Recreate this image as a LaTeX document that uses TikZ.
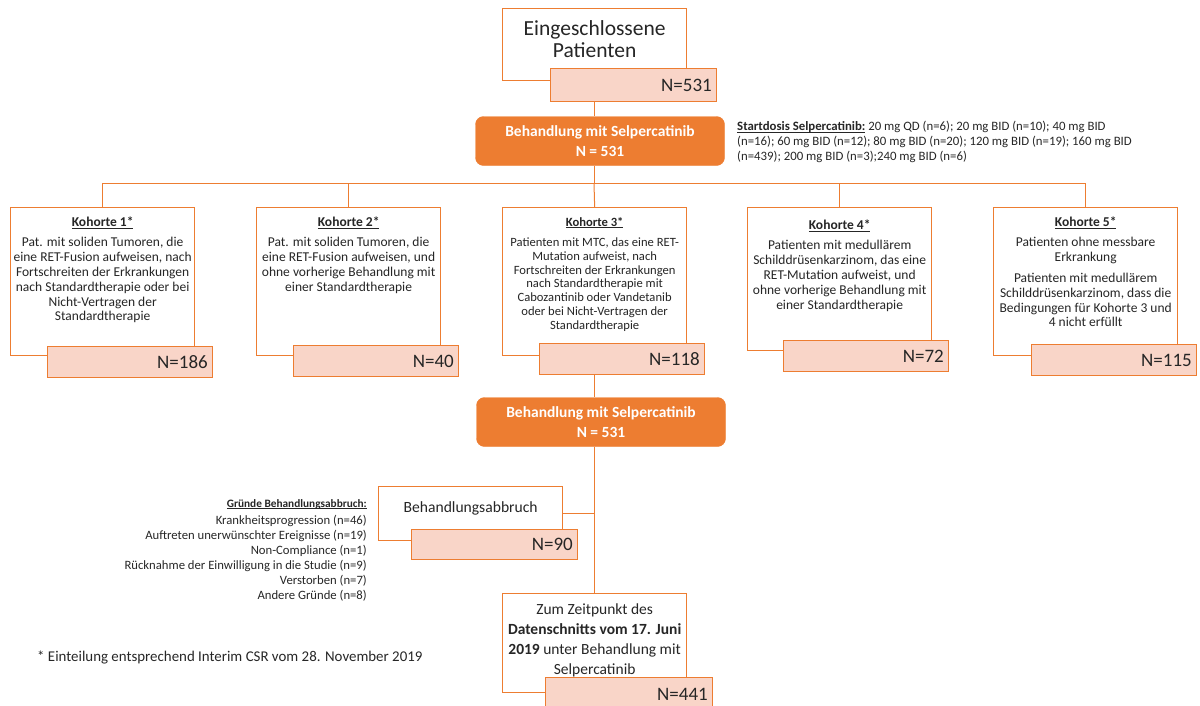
\documentclass[tikz,border=0pt]{standalone}
\usepackage{fontspec}
\setmainfont{Carlito}
\usetikzlibrary{positioning, calc}

\definecolor{boxorange}{HTML}{ED7D31}
\definecolor{npink}{HTML}{F9D5C8}
\definecolor{txtgray}{HTML}{262626}
\newcommand{\setfs}[2]{\fontsize{#1}{#2}\selectfont}
\newcommand{\ulbase}[1]{\underline{\smash{#1}}\vphantom{#1}}

\tikzset{
  wbox/.style={draw=boxorange, line width=1.3pt, fill=white, minimum width=184pt, minimum height=148pt, anchor=north west, inner sep=0pt},
  nbox/.style={draw=boxorange, line width=1.1pt, fill=npink, minimum height=31pt, text width=155pt, align=right, inner sep=5pt, anchor=north east, font=\setfs{19}{22}},
  obox/.style={draw=boxorange, fill=boxorange, rounded corners=8pt, minimum width=249pt, minimum height=49pt, text=white, align=center, font=\bfseries\setfs{15.5}{19.5}},
  ktext/.style={align=center, inner sep=0pt, font=\setfs{13.5}{14.8}},
  conn/.style={draw=boxorange, line width=1pt},
  every node/.style={text=txtgray}
}

\begin{document}
\begin{tikzpicture}[x=1pt, y=-1pt, node distance=10pt]
  \useasboundingbox (0,0) rectangle (1200,705);

  % Einschluss
  \node[wbox, minimum height=72pt] (incl) at (502,8) {};
  \node[below=12pt of incl.north, inner sep=0pt, align=center, font=\setfs{21.5}{22}] (inclt) {Eingeschlossene\\Patienten};
  \node[nbox, text width=156pt, minimum height=33pt] (n531) at ($(incl.south east)+(30,-13)$) {N=531};

  % Behandlung
  \node[obox] (beh1) at (600,141) {Behandlung mit Selpercatinib\\N = 531};
  \node[anchor=north west, inner sep=0pt, align=left, font=\setfs{12.8}{15}] (dose) at (737,121) {\textbf{\ulbase{Startdosis Selpercatinib:}} 20 mg QD (n=6); 20 mg BID (n=10); 40 mg BID\\(n=16); 60 mg BID (n=12); 80 mg BID (n=20); 120 mg BID (n=19); 160 mg BID\\(n=439); 200 mg BID (n=3);240 mg BID (n=6)};
  \coordinate (split) at (594,183);

  % Kohorten
  \node[wbox] (k1) at (10,207) {};
  \node[ktext, below=of k1.north] (k1t) {\textbf{\ulbase{Kohorte 1*}}\\[5.2pt]Pat. mit soliden Tumoren, die\\eine RET-Fusion aufweisen, nach\\Fortschreiten der Erkrankungen\\nach Standardtherapie oder bei\\Nicht-Vertragen der\\Standardtherapie};
  \node[nbox] (k1n) at ($(k1.south east)+(18,-10)$) {N=186};

  \node[wbox] (k2) at (256,207) {};
  \node[ktext, below=of k2.north] (k2t) {\textbf{\ulbase{Kohorte 2*}}\\[5.2pt]Pat. mit soliden Tumoren, die\\eine RET-Fusion aufweisen, und\\ohne vorherige Behandlung mit\\einer Standardtherapie};
  \node[nbox] (k2n) at ($(k2.south east)+(18,-11)$) {N=40};

  \node[wbox] (k3) at (502,207) {};
  \node[ktext, below=of k3.north, font=\setfs{12.6}{13.8}] (k3t) {\textbf{\ulbase{Kohorte 3*}}\\[6.5pt]Patienten mit MTC, das eine RET-\\Mutation aufweist, nach\\Fortschreiten der Erkrankungen\\nach Standardtherapie mit\\Cabozantinib oder Vandetanib\\oder bei Nicht-Vertragen der\\Standardtherapie};
  \node[nbox] (k3n) at ($(k3.south east)+(18,-13)$) {N=118};

  \node[wbox, minimum height=143pt] (k4) at (747,207) {};
  \node[ktext, below=13pt of k4.north] (k4t) {\textbf{\ulbase{Kohorte 4*}}\\[5.2pt]Patienten mit medullärem\\Schilddrüsenkarzinom, das eine\\RET-Mutation aufweist, und\\ohne vorherige Behandlung mit\\einer Standardtherapie};
  \node[nbox] (k4n) at ($(k4.south east)+(17,-11)$) {N=72};

  \node[wbox] (k5) at (993,207) {};
  \node[ktext, below=of k5.north] (k5t) {\textbf{\ulbase{Kohorte 5*}}\\[5.2pt]Patienten ohne messbare\\Erkrankung\\[6pt]Patienten mit medullärem\\Schilddrüsenkarzinom, dass die\\Bedingungen für Kohorte 3 und\\4 nicht erfüllt};
  \node[nbox] (k5n) at ($(k5.south east)+(19,-12)$) {N=115};

  % Behandlung nach Kohorten
  \node[obox] (beh2) at (601,422) {Behandlung mit Selpercatinib\\N = 531};

  % Abbruch
  \node[wbox, minimum height=54pt] (abb) at (378,486) {};
  \node[below=15pt of abb.north, inner sep=0pt, font=\setfs{15.6}{18}] (abbt) {Behandlungsabbruch};
  \node[nbox, text width=156pt, minimum height=30pt] (n90) at ($(abb.south east)+(15,-12)$) {N=90};
  \node[anchor=north east, inner sep=0pt, align=right, font=\setfs{12.7}{15}] (why) at (367,499) {{\bfseries\setfs{11.3}{15}\ulbase{Gründe Behandlungsabbruch:}}\\[2pt]Krankheitsprogression (n=46)\\Auftreten unerwünschter Ereignisse (n=19)\\Non-Compliance (n=1)\\Rücknahme der Einwilligung in die Studie (n=9)\\Verstorben (n=7)\\Andere Gründe (n=8)};

  % Datenschnitt
  \node[wbox, minimum height=99pt] (zeit) at (502,593) {};
  \node[below=11pt of zeit.north, inner sep=0pt, align=center, font=\setfs{15.5}{20}] (zeitt) {Zum Zeitpunkt des\\\textbf{Datenschnitts vom 17. Juni}\\\textbf{2019} unter Behandlung mit\\Selpercatinib};
  \node[nbox, text width=157pt, minimum height=33pt] (n441) at ($(zeit.south east)+(26,-16)$) {N=441};

  \node[anchor=base west, inner sep=0pt, font=\setfs{14.9}{17}] (note) at (37,661) {* Einteilung entsprechend Interim CSR vom 28. November 2019};

  % Verbindungen
  \draw[conn] (incl.south |- n531.south) -- (incl.south |- beh1.north);
  \draw[conn] (split |- beh1.south) -- (split);
  \draw[conn] (k1.north |- split) -- (k5.north |- split);
  \draw[conn] (k1.north) -- (k1.north |- split);
  \draw[conn] (k2.north) -- (k2.north |- split);
  \draw[conn] (k3.north) -- (split);
  \draw[conn] (k4.north) -- (k4.north |- split);
  \draw[conn] (k5.north) -- (k5.north |- split);
  \draw[conn] (k3.south |- k3n.south) -- (k3.south |- beh2.north);
  \draw[conn] (zeit.north |- beh2.south) -- (zeit.north);
  \draw[conn] (abb.east) -- (abb.east -| zeit.north);
\end{tikzpicture}
\end{document}
